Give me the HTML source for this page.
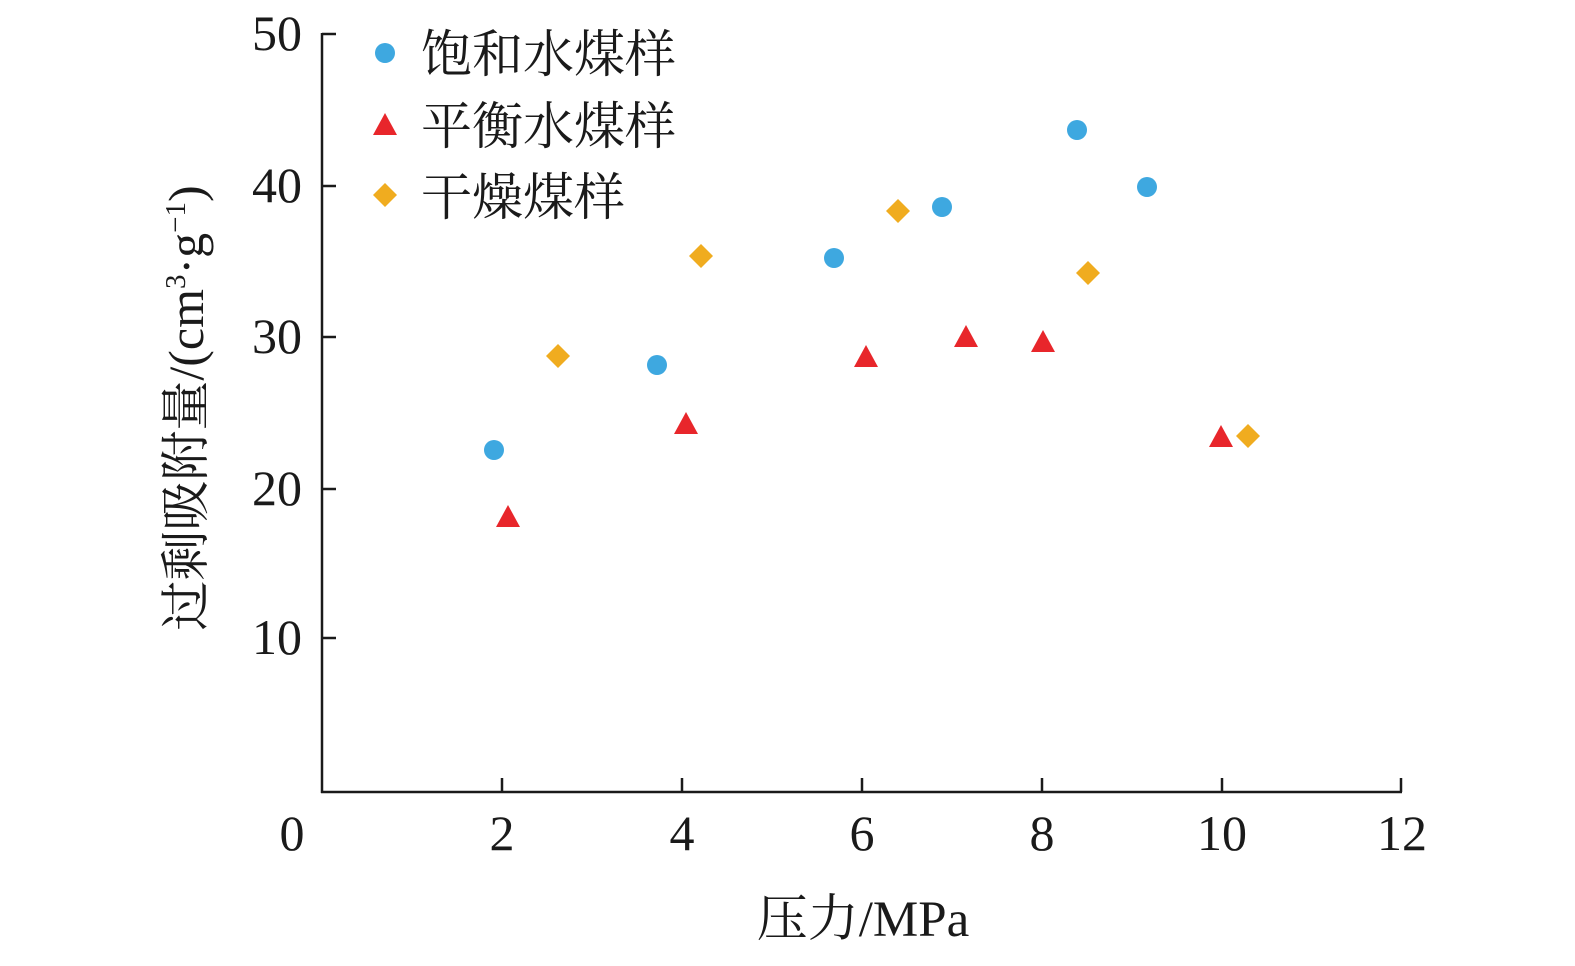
<!DOCTYPE html>
<html><head><meta charset="utf-8"><style>
html,body{margin:0;padding:0;background:#fff;}
svg text{font-family:"Liberation Serif","Noto Serif CJK SC",serif;fill:#1a1a1a;}
</style></head><body>
<svg width="1575" height="961" viewBox="0 0 1575 961" xmlns="http://www.w3.org/2000/svg">
<g stroke="#1a1a1a" stroke-width="2.5" fill="none">
<line x1="322" y1="33" x2="322" y2="793"/>
<line x1="321" y1="792" x2="1402" y2="792"/>
<line x1="322" y1="34" x2="336" y2="34"/>
<line x1="322" y1="186" x2="336" y2="186"/>
<line x1="322" y1="337" x2="336" y2="337"/>
<line x1="322" y1="489" x2="336" y2="489"/>
<line x1="322" y1="638" x2="336" y2="638"/>
<line x1="502" y1="792" x2="502" y2="778"/>
<line x1="682" y1="792" x2="682" y2="778"/>
<line x1="862" y1="792" x2="862" y2="778"/>
<line x1="1042" y1="792" x2="1042" y2="778"/>
<line x1="1222" y1="792" x2="1222" y2="778"/>
<line x1="1401" y1="792" x2="1401" y2="778"/>
</g>
<g font-size="50" text-anchor="end">
<text x="302" y="50">50</text>
<text x="302" y="202">40</text>
<text x="302" y="353">30</text>
<text x="302" y="505">20</text>
<text x="302" y="654">10</text>
</g>
<g font-size="50" text-anchor="middle">
<text x="292" y="850">0</text>
<text x="502" y="850">2</text>
<text x="682" y="850">4</text>
<text x="862" y="850">6</text>
<text x="1042" y="850">8</text>
<text x="1222" y="850">10</text>
<text x="1402" y="850">12</text>
</g>
<text x="863" y="936" font-size="51" text-anchor="middle">压力/MPa</text>
<text transform="translate(203,408) rotate(-90)" font-size="50" text-anchor="middle">过剩吸附量/(cm<tspan font-size="29" dy="-18">3</tspan><tspan dy="18">·g</tspan><tspan font-size="29" dy="-18">−1</tspan><tspan dy="18">)</tspan></text>
<g fill="#3ea8e0">
<circle cx="385" cy="53" r="10"/>
<circle cx="494" cy="450" r="10"/>
<circle cx="657" cy="365" r="10"/>
<circle cx="834" cy="258" r="10"/>
<circle cx="942" cy="207" r="10"/>
<circle cx="1077" cy="130" r="10"/>
<circle cx="1147" cy="187" r="10"/>
</g>
<g fill="#e8262b">
<path d="M385 113 l12 22 h-24z"/>
<path d="M508 505 l12 22 h-24z"/>
<path d="M686 412 l12 22 h-24z"/>
<path d="M866 345 l12 22 h-24z"/>
<path d="M966 325 l12 22 h-24z"/>
<path d="M1043 330 l12 22 h-24z"/>
<path d="M1221 425 l12 22 h-24z"/>
</g>
<g fill="#f0ac1f">
<path d="M385 183 l12 12 l-12 12 l-12 -12z"/>
<path d="M558 344 l12 12 l-12 12 l-12 -12z"/>
<path d="M701 244 l12 12 l-12 12 l-12 -12z"/>
<path d="M898 199 l12 12 l-12 12 l-12 -12z"/>
<path d="M1088 261 l12 12 l-12 12 l-12 -12z"/>
<path d="M1248 424 l12 12 l-12 12 l-12 -12z"/>
</g>
<g font-size="51">
<text x="421" y="72">饱和水煤样</text>
<text x="421" y="144">平衡水煤样</text>
<text x="421" y="215">干燥煤样</text>
</g>
</svg>
</body></html>
